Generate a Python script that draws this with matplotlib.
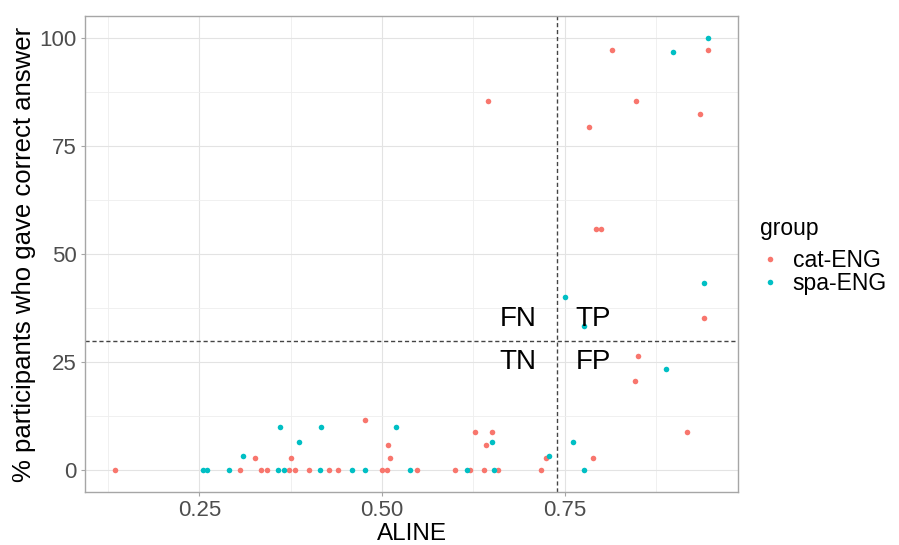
import numpy as np
import matplotlib.pyplot as plt
from matplotlib.lines import Line2D

plt.rcParams['font.family'] = ['Liberation Sans', 'DejaVu Sans']

# ALINE score vs % correct, per group
cat_aline = [0.134, 0.306, 0.326, 0.334, 0.342, 0.373, 0.376, 0.381, 0.400, 0.427,
             0.440, 0.477, 0.500, 0.507, 0.508, 0.511, 0.548, 0.600, 0.620, 0.628,
             0.639, 0.643, 0.645, 0.650, 0.659, 0.718, 0.724, 0.784, 0.789, 0.793,
             0.800, 0.815, 0.847, 0.848, 0.850, 0.917, 0.935, 0.941, 0.947]
cat_pct = [0, 0, 2.94, 0, 0, 0, 2.94, 0, 0, 0,
           0, 11.76, 0, 0, 5.88, 2.94, 0, 0, 0, 8.82,
           0, 5.88, 85.29, 8.82, 0, 0, 2.94, 79.41, 2.94, 55.88,
           55.88, 97.06, 20.59, 85.29, 26.47, 8.82, 82.35, 35.29, 97.06]

spa_aline = [0.255, 0.260, 0.290, 0.310, 0.358, 0.360, 0.366, 0.386, 0.415, 0.417,
             0.459, 0.477, 0.519, 0.538, 0.617, 0.650, 0.653, 0.728, 0.750, 0.761,
             0.776, 0.777, 0.889, 0.899, 0.941, 0.947]
spa_pct = [0, 0, 0, 3.33, 0, 10.0, 0, 6.67, 0, 10.0,
           0, 0, 10.0, 0, 0, 6.67, 0, 3.33, 40.0, 6.67,
           0, 33.33, 23.33, 96.67, 43.33, 100]

groups = ['cat-ENG', 'spa-ENG']
colors = ['#F8766D', '#00BFC4']

x_cut = 0.74
y_cut = 30
quadrants = [('FN', 0.686, 35), ('TP', 0.789, 35), ('TN', 0.686, 25), ('FP', 0.789, 25)]

fig = plt.figure(figsize=(8.99, 5.45), dpi=100)
ax = fig.add_axes([0.0946, 0.0972, 0.7264, 0.8734])

ax.scatter(cat_aline, cat_pct, s=16, color=colors[0], linewidths=0, zorder=3)
ax.scatter(spa_aline, spa_pct, s=16, color=colors[1], linewidths=0, zorder=3)

ax.axhline(y_cut, color='#444444', ls=(0, (3, 2)), lw=1.0, zorder=2)
ax.axvline(x_cut, color='#444444', ls=(0, (3, 2)), lw=1.0, zorder=2)

for lab, tx, ty in quadrants:
    ax.text(tx, ty, lab, fontsize=20, ha='center', va='center', color='black', zorder=4)

ax.set_xlim(0.0935, 0.9875)
ax.set_ylim(-5, 105)
ax.set_xticks([0.25, 0.50, 0.75])
ax.set_xticklabels(['0.25', '0.50', '0.75'])
ax.set_xticks([0.125, 0.375, 0.625, 0.875], minor=True)
ax.set_yticks([0, 25, 50, 75, 100])
ax.set_yticks([12.5, 37.5, 62.5, 87.5], minor=True)

ax.grid(which='major', color='#E3E3E3', lw=0.8, zorder=0)
ax.grid(which='minor', color='#EEEEEE', lw=0.6, zorder=0)
ax.set_axisbelow(True)

for sp in ax.spines.values():
    sp.set_color('#A6A6A6')
    sp.set_linewidth(1.0)

ax.tick_params(which='major', length=3, color='#A6A6A6', labelsize=16,
               labelcolor='#4D4D4D', pad=3)
ax.tick_params(which='minor', length=0)

ax.set_xlabel('ALINE', fontsize=17.5, color='black', va='center')
ax.xaxis.set_label_coords(0.5, -0.088)
ax.set_ylabel('% participants who gave correct answer', fontsize=18.5,
              color='black', va='center')
ax.yaxis.set_label_coords(-0.093, 0.5)

# legend: title drawn separately for the wider gap above the keys
fig.text(760 / 899, 1 - 228 / 545, 'group', fontsize=16.5, ha='left', va='center')
handles = [Line2D([], [], ls='', marker='o', ms=4, mfc=c, mec='none') for c in colors]
leg = fig.legend(handles, groups, loc='upper left',
                 bbox_to_anchor=(0.846, 0.543), frameon=False, fontsize=16.5,
                 handlelength=0.8, handletextpad=0.6,
                 labelspacing=0.0, borderpad=0, borderaxespad=0)

fig.savefig('out.png', dpi=100)
